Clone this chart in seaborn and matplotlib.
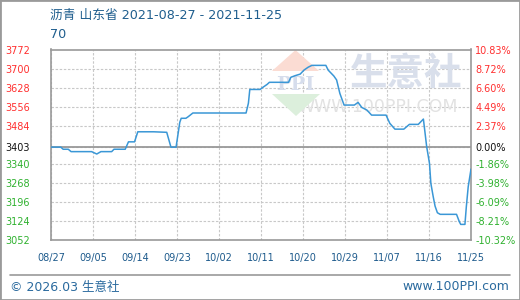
import numpy as np
import pandas as pd
import matplotlib
matplotlib.use("Agg")
import matplotlib.pyplot as plt
import seaborn as sns
from matplotlib.patches import Polygon, Rectangle
from matplotlib.lines import Line2D

# ---- data ----
days = [0, 2.1, 2.6, 3.7, 4.3, 8.7, 9.8, 10.7, 13, 13.5, 15.9, 16.6, 17.9, 18.6, 22,
        24.8, 25.7, 26.8, 27.6, 27.9, 28.9, 29.4, 30.4, 41.8, 42.3, 42.6, 44.8, 45.4,
        46.3, 46.8, 50.9, 51.4, 52.3, 53.4, 54.2, 55.1, 55.9, 58.9, 59.4, 60.6, 61.2,
        61.9, 62.8, 65, 65.8, 66.6, 67.7, 68.7, 71.8, 72.6, 73.7, 75.6, 76.8, 78.7,
        79.8, 80.5, 81.1, 81.4, 81.9, 82.3, 82.8, 83.4, 86.9, 87.5, 87.8, 88.7, 89,
        89.4, 90]
prices = [3403, 3403, 3395, 3395, 3386, 3386, 3377, 3386, 3386, 3395, 3395, 3423, 3423,
          3461, 3461, 3459, 3403, 3403, 3497, 3512, 3512, 3518, 3532, 3532, 3569, 3621,
          3621, 3629, 3640, 3648, 3648, 3667, 3673, 3679, 3694, 3705, 3712, 3712, 3694,
          3672, 3657, 3606, 3562, 3562, 3572, 3553, 3543, 3524, 3524, 3493, 3471, 3471,
          3489, 3489, 3509, 3405, 3342, 3266, 3216, 3180, 3155, 3149, 3149, 3121, 3111,
          3111, 3178, 3253, 3320]
x_tick_days = [0, 9, 18, 27, 36, 45, 54, 63, 72, 81, 90]
x_tick_labels = ["08/27", "09/05", "09/14", "09/23", "10/02", "10/11",
                 "10/20", "10/29", "11/07", "11/16", "11/25"]
y_ticks = [3772, 3700, 3628, 3556, 3484, 3403, 3340, 3268, 3196, 3124, 3052]
y_tick_labels = ["3772", "3700", "3628", "3556", "3484", "3403",
                 "3340", "3268", "3196", "3124", "3052"]
pct_labels = ["10.83%", "8.72%", "6.60%", "4.49%", "2.37%", "0.00%",
              "-1.86%", "-3.98%", "-6.09%", "-8.21%", "-10.32%"]
base_price = 3403
title_text = "沥青 山东省 2021-08-27 - 2021-11-25"
subtitle_text = "70"

# ---- style ----
sns.set_theme(style="white")
plt.rcParams['font.family'] = ['DejaVu Sans', 'Noto Sans CJK SC']

W, H = 520, 300
def fx(px):
    return px / W
def fy(py):
    return 1 - py / H

fig = plt.figure(figsize=(5.2, 3.0), dpi=100)
fig.patch.set_facecolor('white')
ax = fig.add_axes([fx(51), fy(240), (471 - 51) / W, (240 - 49.5) / H])
ax.set_facecolor('white')

df = pd.DataFrame({'day': days, 'price': prices})
sns.lineplot(data=df, x='day', y='price', ax=ax, color='#3a97d6', lw=1.1, zorder=3)

ax.set_xlim(0, 90)
ax.set_ylim(3052, 3772)
ax.set_xlabel('')
ax.set_ylabel('')

ax.set_xticks(x_tick_days)
ax.set_xticklabels(x_tick_labels)
ax.set_yticks(y_ticks)
ax.set_yticklabels(y_tick_labels)

red, green, black = '#ff2f2f', '#2fb12f', '#111111'
def col(v):
    return red if v > base_price else (black if v == base_price else green)

ax.tick_params(axis='y', length=0, pad=33, labelsize=7)
for lbl, v in zip(ax.get_yticklabels(), y_ticks):
    lbl.set_ha('left')
    lbl.set_color(col(v))
ax.tick_params(axis='x', length=0, pad=9, labelsize=7, labelcolor='#1d5a8c')

ax.grid(True, color='#c8c8c8', linestyle=(0, (2.2, 1.5)), lw=0.8, zorder=1.5)
ax.axhline(base_price, color='#999999', lw=1.3, zorder=2)
for s in ax.spines.values():
    s.set_color('#999999')
    s.set_linewidth(1.2)

ax2 = ax.twinx()
ax2.set_ylim(ax.get_ylim())
ax2.set_yticks(y_ticks)
ax2.set_yticklabels(pct_labels)
ax2.tick_params(axis='y', length=0, pad=3, labelsize=7)
for lbl, v in zip(ax2.get_yticklabels(), y_ticks):
    lbl.set_color(col(v))
ax2.grid(False)
for s in ax2.spines.values():
    s.set_visible(False)

# ---- watermark (behind the line) ----
tf = fig.transFigure
ax.text(fx(406), fy(73), "生意社", transform=tf, ha='center', va='center',
        fontsize=27, fontweight='bold', color='#d9dfeb', family=['Noto Sans CJK SC'], zorder=1)
ax.text(fx(378), fy(107), "WWW.100PPI.COM", transform=tf, ha='center', va='center',
        fontsize=12.5, color='#e2e2e2', zorder=1)
ax.add_patch(Polygon([(fx(295.5), fy(50)), (fx(272), fy(71)), (fx(319), fy(71))],
                     closed=True, transform=tf, fc='#fbdcd3', ec='none', zorder=1))
ax.add_patch(Polygon([(fx(272), fy(94)), (fx(320), fy(94)), (fx(296), fy(116))],
                     closed=True, transform=tf, fc='#dcefdc', ec='none', zorder=1))
ax.text(fx(295.5), fy(83.5), "PPI", transform=tf, ha='center', va='center_baseline',
        fontsize=14, fontweight='bold', family='DejaVu Serif', color='#d6ddec', zorder=1)

# ---- titles and footer ----
fig.text(fx(50), fy(15), title_text, ha='left', va='center', fontsize=9.2,
         color='#1f5e8e', family=['DejaVu Sans', 'Noto Sans CJK SC'])
fig.text(fx(50), fy(35), subtitle_text, ha='left', va='center', fontsize=9.2, color='#1f5e8e')
fig.add_artist(Line2D([fx(10), fx(510)], [fy(275), fy(275)], transform=tf,
                      color='#9a9a9a', lw=1.2))
fig.text(fx(10), fy(287), "© 2026.03 生意社", ha='left', va='center', fontsize=9,
         color='#2a6a9e', family=['DejaVu Sans', 'Noto Sans CJK SC'])
fig.text(fx(509), fy(287), "www.100PPI.com", ha='right', va='center', fontsize=9,
         color='#2a6a9e')
fig.add_artist(Rectangle((0, 0), 1, 1, transform=tf, fill=False, ec='#9a9a9a', lw=2))

fig.savefig("out.png", dpi=100, facecolor='white')
